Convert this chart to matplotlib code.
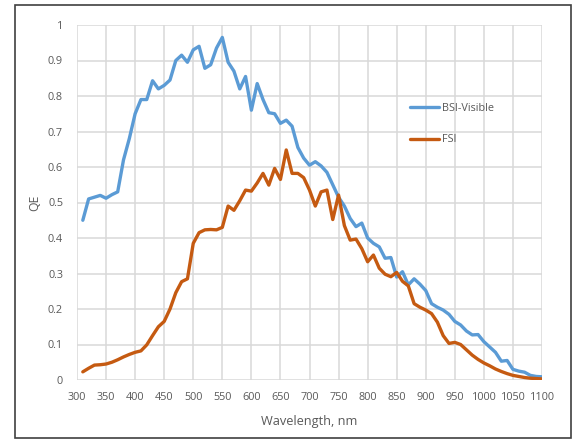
import matplotlib
matplotlib.use("Agg")
import matplotlib.pyplot as plt
from matplotlib.patches import Rectangle

wavelength = [310, 320, 330, 340, 350, 360, 370, 380, 390, 400,
              410, 420, 430, 440, 450, 460, 470, 480, 490, 500,
              510, 520, 530, 540, 550, 560, 570, 580, 590, 600,
              610, 620, 630, 640, 650, 660, 670, 680, 690, 700,
              710, 720, 730, 740, 750, 760, 770, 780, 790, 800,
              810, 820, 830, 840, 850, 860, 870, 880, 890, 900,
              910, 920, 930, 940, 950, 960, 970, 980, 990, 1000,
              1010, 1020, 1030, 1040, 1050, 1060, 1070, 1080, 1090, 1100]

bsi_visible = [0.45, 0.51, 0.515, 0.52, 0.512, 0.522, 0.53, 0.62, 0.68, 0.75,
               0.79, 0.79, 0.843, 0.82, 0.83, 0.845, 0.90, 0.915, 0.895, 0.93,
               0.94, 0.878, 0.888, 0.935, 0.965, 0.895, 0.87, 0.82, 0.855, 0.76,
               0.835, 0.79, 0.753, 0.75, 0.723, 0.732, 0.715, 0.655, 0.625, 0.605,
               0.615, 0.603, 0.585, 0.55, 0.515, 0.49, 0.455, 0.432, 0.442, 0.40,
               0.385, 0.375, 0.343, 0.345, 0.29, 0.305, 0.268, 0.285, 0.27, 0.252,
               0.215, 0.205, 0.197, 0.185, 0.165, 0.155, 0.138, 0.127, 0.128, 0.108,
               0.093, 0.078, 0.053, 0.055, 0.03, 0.025, 0.022, 0.013, 0.01, 0.009]

fsi = [0.023, 0.033, 0.042, 0.043, 0.045, 0.05, 0.057, 0.065, 0.072, 0.078,
       0.082, 0.099, 0.125, 0.15, 0.165, 0.2, 0.246, 0.277, 0.285, 0.385,
       0.415, 0.423, 0.424, 0.423, 0.43, 0.49, 0.478, 0.505, 0.535, 0.532,
       0.555, 0.582, 0.549, 0.596, 0.565, 0.648, 0.582, 0.582, 0.57, 0.535,
       0.49, 0.53, 0.535, 0.452, 0.521, 0.435, 0.394, 0.397, 0.37, 0.333,
       0.352, 0.315, 0.298, 0.291, 0.303, 0.278, 0.265, 0.215, 0.205, 0.197,
       0.187, 0.163, 0.125, 0.103, 0.106, 0.1, 0.085, 0.07, 0.058, 0.048,
       0.04, 0.031, 0.024, 0.018, 0.013, 0.01, 0.007, 0.005, 0.004, 0.003]

x_ticks = list(range(300, 1101, 50))
y_ticks = [0, 0.1, 0.2, 0.3, 0.4, 0.5, 0.6, 0.7, 0.8, 0.9, 1]
y_tick_labels = ["0", "0.1", "0.2", "0.3", "0.4", "0.5", "0.6", "0.7", "0.8", "0.9", "1"]

plt.rcParams['font.family'] = ['Open Sans', 'DejaVu Sans']
text_color = "#595959"

fig = plt.figure(figsize=(5.78, 4.41), dpi=100)
ax = fig.add_axes([77/578, 1 - 380/441, 465/578, 355/441])

ax.plot(wavelength, bsi_visible, color="#5B9BD5", lw=2.4, label="BSI-Visible",
        solid_joinstyle="round", solid_capstyle="round", zorder=3)
ax.plot(wavelength, fsi, color="#C55A11", lw=2.4, label="FSI",
        solid_joinstyle="round", solid_capstyle="round", zorder=3)

ax.set_xlim(300, 1100)
ax.set_ylim(0, 1)
ax.set_xticks(x_ticks)
ax.set_xticklabels([str(t) for t in x_ticks])
ax.set_yticks(y_ticks)
ax.set_yticklabels(y_tick_labels)
ax.grid(True, color="#d9d9d9", lw=1.1, zorder=0)
ax.set_axisbelow(True)
for s in ax.spines.values():
    s.set_visible(False)
ax.tick_params(axis="both", length=0, labelsize=7.8, colors=text_color)
ax.tick_params(axis="x", pad=9)
ax.tick_params(axis="y", pad=10)

ax.set_xlabel("Wavelength, nm", fontsize=9.2, color=text_color, labelpad=8)
ax.set_ylabel("QE", fontsize=8.8, color=text_color, labelpad=5)

leg = ax.legend(loc="center left", bbox_to_anchor=(0.716, 0.721), frameon=False,
                fontsize=7.8, handlelength=2.7, handletextpad=0.3,
                labelspacing=1.9, borderpad=0, borderaxespad=0)
for t in leg.get_texts():
    t.set_color(text_color)

fig.patches.append(Rectangle((15/578, 1 - 438/441), (571-15)/578, (438-5)/441,
                             transform=fig.transFigure, fill=False,
                             edgecolor="#404040", lw=1.2))

fig.savefig("out.png", dpi=100)
